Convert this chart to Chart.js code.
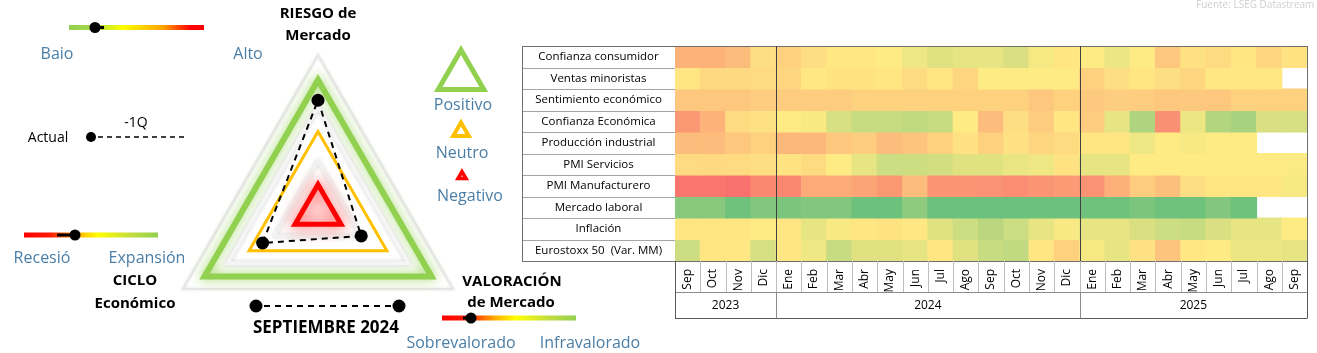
<!DOCTYPE html>
<html><head><meta charset="utf-8">
<script src="https://cdn.jsdelivr.net/npm/chart.js@4.4.1/dist/chart.umd.min.js"></script>
<style>
html,body{margin:0;padding:0;background:#fff;overflow:hidden;width:1317px;height:353px;}
#radarWrap{position:absolute;left:0;top:0;width:660px;height:400px;z-index:2;}
#heatWrap{position:absolute;left:520px;top:0;width:797px;height:353px;z-index:1;}
canvas{display:block;}
</style></head><body>
<div id="heatWrap"><canvas id="heat" width="797" height="353"></canvas></div>
<div id="radarWrap"><canvas id="radar" width="660" height="400"></canvas></div>
<script>
// ---------------- DATA ----------------
const radarAxes = ['Riesgo de Mercado', 'Valoración de Mercado', 'Ciclo Económico'];
const actualValues = [7.1, 3.2, 4.1];
const zoneNames  = ['Marco', 'Positivo', 'Anillo', 'Neutro', 'Interior', 'Negativo'];
const zoneLevels = [10, 8.4, 6.7, 5.1, 3.2, 1.7];
const radarMax = 10;

const months = ['Sep','Oct','Nov','Dic','Ene','Feb','Mar','Abr','May','Jun','Jul','Ago','Sep','Oct','Nov','Dic','Ene','Feb','Mar','Abr','May','Jun','Jul','Ago','Sep'];
const years = ['2023','2024','2025'];
const monthsPerYear = [4, 12, 9];
const indicators = ['Confianza consumidor','Ventas minoristas','Sentimiento económico','Confianza Económica','Producción industrial','PMI Servicios','PMI Manufacturero','Mercado laboral','Inflación','Eurostoxx 50  (Var. MM)'];

// scores 0 (rojo) - 50 (amarillo) - 100 (verde)
const confianzaConsumidor  = [28,28,32,45, 40,45,49,49, 50,55,60,58,58,62,53,48, 50,56,50,36,46,44,48,42,47];
const ventasMinoristas     = [48,43,43,44, 42,49,47,47, 48,44,48,42,50,50,50,50, 40,45,48,45,42,49,49,49,null];
const sentimientoEconomico = [36,36,36,38, 38,38,38,40, 40,40,40,40,40,40,36,40, 37,39,38,36,37,36,40,40,40];
const confianzaEconomica   = [18,28,44,46, 50,52,63,68, 68,70,68,50,32,45,38,48, 38,58,76,15,56,74,78,62,63];
const produccionIndustrial = [32,32,36,40, 30,30,36,38, 32,35,40,46,40,46,42,44, 48,48,55,50,52,50,50,null,null];
const pmiServicios         = [44,43,44,45, 47,44,50,58, 66,66,64,60,60,57,55,47, 58,58,50,50,50,50,50,50,51];
const pmiManufacturero     = [5,5,3,12, 12,25,25,23, 18,32,17,17,16,14,17,19, 16,27,38,33,45,48,48,48,53];
const mercadoLaboral       = [88,88,96,90, 92,90,90,97, 97,86,97,97,97,97,97,97, 96,96,92,96,96,90,96,null,null];
const inflacion            = [48,48,48,50, 48,58,52,48, 47,49,60,66,72,66,58,52, 58,58,62,66,68,62,58,58,50];
const eurostoxx50          = [66,48,49,63, 48,55,68,60, 60,58,48,60,68,70,48,40, 53,58,46,35,49,50,56,56,58];

// ---------------- HELPERS ----------------
const FONT = "'Open Sans', 'Liberation Sans', sans-serif";
const BLUE = '#4A7EA6';
const colorLow = [248,105,107], colorMid = [255,235,132], colorHigh = [99,190,123];
function scaleColor(v){
  const t = Math.max(0, Math.min(1, v/100));
  let a, b, u;
  if (t < 0.5) { a = colorLow; b = colorMid; u = t/0.5; } else { a = colorMid; b = colorHigh; u = (t-0.5)/0.5; }
  return 'rgb(' + a.map((c,i)=>Math.round(c + (b[i]-c)*u)).join(',') + ')';
}

const glowPlugin = {
  id: 'glow',
  beforeDatasetDraw(chart, args) {
    const ds = chart.data.datasets[args.index];
    const ctx = chart.ctx;
    ctx.save();
    if (ds.glowColor) { ctx.shadowColor = ds.glowColor; ctx.shadowBlur = ds.glowBlur || 8; ctx.shadowOffsetX = 0; ctx.shadowOffsetY = 0; }
  },
  afterDatasetDraw(chart) { chart.ctx.restore(); }
};

function gradBar(ctx, x0, x1, y, h, stops){
  const g = ctx.createLinearGradient(x0, 0, x1, 0);
  stops.forEach(s => g.addColorStop(s[0], s[1]));
  ctx.fillStyle = g;
  ctx.fillRect(x0, y - h/2, x1 - x0, h);
}
function dot(ctx, x, y, r){ ctx.beginPath(); ctx.arc(x, y, r, 0, Math.PI*2); ctx.fillStyle = '#000'; ctx.fill(); }
function seg(ctx, x0, x1, y, w, dash){ ctx.beginPath(); ctx.setLineDash(dash || []); ctx.moveTo(x0, y); ctx.lineTo(x1, y); ctx.strokeStyle = '#000'; ctx.lineWidth = w; ctx.stroke(); ctx.setLineDash([]); }
function tri(ctx, cx, top, bottom, color, lw){
  const half = (bottom - top) / Math.sqrt(3);
  ctx.beginPath(); ctx.moveTo(cx, top); ctx.lineTo(cx + half, bottom); ctx.lineTo(cx - half, bottom); ctx.closePath();
  ctx.lineJoin = 'miter'; ctx.strokeStyle = color; ctx.lineWidth = lw; ctx.stroke();
}
function txt(ctx, s, x, y, font, color){ ctx.font = font; ctx.fillStyle = color; ctx.textAlign = 'center'; ctx.textBaseline = 'middle'; ctx.fillText(s, x, y); }

const warmToCool = [[0,'#92D050'],[0.18,'#A6D845'],[0.4,'#FFFF00'],[0.7,'#FFA000'],[0.9,'#FF0000'],[1,'#FF0000']];
const coolToWarm = [[0,'#FF0000'],[0.2,'#FF1a00'],[0.4,'#FFB000'],[0.55,'#FFFF00'],[0.8,'#C2DC40'],[1,'#92D050']];

const decorPlugin = {
  id: 'decor',
  afterDraw(chart) {
    const ctx = chart.ctx;
    ctx.save();
    // Riesgo scale
    gradBar(ctx, 69, 204, 27.5, 5, warmToCool);
    seg(ctx, 95, 104, 27.5, 3);
    dot(ctx, 95, 27.5, 5.5);
    txt(ctx, 'Baio', 57, 54, '16px ' + FONT, BLUE);
    txt(ctx, 'Alto', 248, 54, '16px ' + FONT, BLUE);
    // Actual legend
    txt(ctx, 'Actual', 48, 138, '14px ' + FONT, '#000');
    txt(ctx, '-1Q', 136, 123, '14px ' + FONT, '#000');
    dot(ctx, 91, 137, 5);
    seg(ctx, 98, 187, 137, 1.5, [5,4]);
    // Ciclo scale
    gradBar(ctx, 24, 158, 235, 5, coolToWarm);
    seg(ctx, 57, 75, 235, 3);
    dot(ctx, 75, 235, 5.5);
    txt(ctx, 'Recesió', 42, 258, '16px ' + FONT, BLUE);
    txt(ctx, 'Expansión', 147, 258, '16px ' + FONT, BLUE);
    txt(ctx, 'CICLO', 135, 281, 'bold 15px ' + FONT, '#000');
    txt(ctx, 'Económico', 135, 304, 'bold 15px ' + FONT, '#000');
    // Riesgo title
    txt(ctx, 'RIESGO de', 318, 14, 'bold 15px ' + FONT, '#000');
    txt(ctx, 'Mercado', 318, 36, 'bold 15px ' + FONT, '#000');
    // Legend triangles
    tri(ctx, 461, 50, 89.5, '#92D050', 5);
    txt(ctx, 'Positivo', 463, 105, '16px ' + FONT, BLUE);
    tri(ctx, 461, 122.5, 136, '#FFC000', 4);
    txt(ctx, 'Neutro', 462, 153, '16px ' + FONT, BLUE);
    tri(ctx, 462, 171.5, 178.5, '#FF0000', 3.5);
    txt(ctx, 'Negativo', 470, 196, '16px ' + FONT, BLUE);
    // Valoración
    txt(ctx, 'VALORACIÓN', 512, 282, 'bold 15px ' + FONT, '#000');
    txt(ctx, 'de Mercado', 511, 303, 'bold 15px ' + FONT, '#000');
    gradBar(ctx, 442, 576, 318, 5, coolToWarm);
    seg(ctx, 463, 471, 318, 3);
    dot(ctx, 471, 318, 5.5);
    txt(ctx, 'Sobrevalorado', 461, 343, '16px ' + FONT, BLUE);
    txt(ctx, 'Infravalorado', 590, 343, '16px ' + FONT, BLUE);
    // Fecha
    dot(ctx, 256, 306, 6.5);
    dot(ctx, 399, 306, 6.5);
    seg(ctx, 264, 392, 306, 1.8, [6,5]);
    txt(ctx, 'SEPTIEMBRE 2024', 326, 328, 'bold 17px ' + FONT, '#000');
    ctx.restore();
  }
};

function ring(name, level, color, width, glowColor, glowBlur, fillColor){
  return {
    label: name, data: radarAxes.map(() => level),
    borderColor: color, borderWidth: width, pointRadius: 0, pointHoverRadius: 0,
    fill: !!fillColor, backgroundColor: fillColor || 'rgba(0,0,0,0)',
    glowColor: glowColor, glowBlur: glowBlur, clip: false
  };
}

new Chart(document.getElementById('radar'), {
  type: 'radar',
  data: {
    labels: radarAxes,
    datasets: [
      { label: 'Actual', data: actualValues, borderColor: '#000', borderWidth: 2, borderDash: [6,5],
        pointRadius: 6.5, pointBackgroundColor: '#000', pointBorderWidth: 0, fill: false, clip: false },
      ring(zoneNames[5], zoneLevels[5], '#FF0000', 5, 'rgba(255,0,0,0.85)', 16, 'rgba(255,225,225,0.55)'),
      ring(zoneNames[4], zoneLevels[4], '#f3f3f3', 3, 'rgba(0,0,0,0.18)', 4),
      ring(zoneNames[3], zoneLevels[3], '#FFC000', 3, null, 0),
      ring(zoneNames[2], zoneLevels[2], '#f5f5f5', 4, 'rgba(0,0,0,0.18)', 4),
      ring(zoneNames[1], zoneLevels[1], '#92D050', 6, 'rgba(146,208,80,0.9)', 12),
      ring(zoneNames[0], zoneLevels[0], '#e6e6e6', 2, 'rgba(0,0,0,0.12)', 3)
    ]
  },
  options: {
    responsive: false, animation: false,
    layout: { padding: { left: 162, right: 660 - 474, top: 55, bottom: 33 } },
    plugins: { legend: { display: false }, tooltip: { enabled: false } },
    elements: { line: { tension: 0 } },
    scales: { r: { min: 0, max: radarMax, ticks: { display: false }, grid: { display: false },
      angleLines: { display: false }, pointLabels: { display: false } } }
  },
  plugins: [glowPlugin, decorPlugin]
});

// ---------------- HEATMAP ----------------
const rowValues = [confianzaConsumidor, ventasMinoristas, sentimientoEconomico, confianzaEconomica, produccionIndustrial,
  pmiServicios, pmiManufacturero, mercadoLaboral, inflacion, eurostoxx50];
const TABLE_W = 153, MONTH_H = 31, YEAR_H = 26;

const heatDatasets = rowValues.map((vals, r) => ({
  label: indicators[r],
  data: vals.map(v => v == null ? null : [r, r + 1]),
  backgroundColor: vals.map(v => v == null ? 'rgba(0,0,0,0)' : scaleColor(v)),
  borderWidth: 0, inflateAmount: 0.5, barPercentage: 1, categoryPercentage: 1, grouped: false
}));

const tablePlugin = {
  id: 'table',
  afterDraw(chart) {
    const ctx = chart.ctx, ca = chart.chartArea, xs = chart.scales.x, ys = chart.scales.y;
    const n = months.length;
    const bx = i => xs.getPixelForValue(i - 0.5);
    const x0 = ca.left - TABLE_W;
    ctx.save();
    ctx.lineWidth = 1;
    ctx.strokeStyle = '#a6a6a6';
    for (let r = 1; r < indicators.length; r++) {
      const y = Math.round(ys.getPixelForValue(r)) + 0.5;
      ctx.beginPath(); ctx.moveTo(x0, y); ctx.lineTo(ca.left, y); ctx.stroke();
    }
    ctx.strokeStyle = '#6f6f6f';
    ctx.strokeRect(Math.round(x0) + 0.5, Math.round(ca.top) + 0.5, Math.round(ca.right) - Math.round(x0), Math.round(ca.bottom) - Math.round(ca.top));
    ctx.strokeStyle = '#bdbdbd';
    for (let i = 1; i < n; i++) {
      const x = Math.round(bx(i)) + 0.5;
      ctx.beginPath(); ctx.moveTo(x, ca.bottom); ctx.lineTo(x, ca.bottom + MONTH_H); ctx.stroke();
    }
    const yTop = Math.round(ca.bottom + MONTH_H) + 0.5, yBot = Math.round(ca.bottom + MONTH_H + YEAR_H) + 0.5;
    ctx.strokeStyle = '#8c8c8c';
    ctx.beginPath(); ctx.moveTo(ca.left, yTop); ctx.lineTo(ca.right, yTop); ctx.stroke();
    ctx.strokeStyle = '#595959';
    ctx.beginPath(); ctx.moveTo(ca.left, yBot); ctx.lineTo(ca.right, yBot); ctx.stroke();
    const lx = Math.round(ca.left) + 0.5, rx = Math.round(ca.right) + 0.5;
    ctx.beginPath(); ctx.moveTo(lx, ca.bottom); ctx.lineTo(lx, yBot); ctx.moveTo(rx, ca.bottom); ctx.lineTo(rx, yBot); ctx.stroke();
    let start = 0;
    ctx.font = '12px ' + FONT; ctx.fillStyle = '#000'; ctx.textAlign = 'center'; ctx.textBaseline = 'middle';
    years.forEach((yr, k) => {
      const end = start + monthsPerYear[k];
      const xa = bx(start), xb = bx(end);
      ctx.fillText(yr, (xa + xb) / 2, (yTop + yBot) / 2);
      if (k < years.length - 1) {
        const x = Math.round(xb) + 0.5;
        ctx.strokeStyle = '#404040';
        ctx.beginPath(); ctx.moveTo(x, ca.top); ctx.lineTo(x, ca.bottom); ctx.stroke();
        ctx.strokeStyle = '#8c8c8c';
        ctx.beginPath(); ctx.moveTo(x, yTop); ctx.lineTo(x, yBot); ctx.stroke();
      }
      start = end;
    });
    ctx.font = '10px ' + FONT; ctx.fillStyle = '#cfcfcf'; ctx.textAlign = 'left'; ctx.textBaseline = 'middle';
    ctx.fillText('Fuente: LSEG Datastream', 676, 5);
    ctx.restore();
  }
};

new Chart(document.getElementById('heat'), {
  type: 'bar',
  data: { labels: months, datasets: heatDatasets },
  options: {
    responsive: false, animation: false,
    layout: { padding: { left: 2, right: 4.5, top: 46, bottom: 353 - 261 - MONTH_H } },
    plugins: { legend: { display: false }, tooltip: { enabled: false } },
    scales: {
      x: { type: 'category', offset: true, grid: { display: false, drawTicks: false }, border: { display: false },
        ticks: { autoSkip: false, minRotation: 90, maxRotation: 90, padding: 8, color: '#000', font: { family: FONT, size: 12 } },
        afterFit: s => { s.height = MONTH_H; } },
      y: { type: 'linear', min: 0, max: indicators.length, reverse: true,
        grid: { display: false, drawTicks: false }, border: { display: false },
        afterBuildTicks: s => { s.ticks = indicators.map((_, i) => ({ value: i + 0.5 })); },
        ticks: { autoSkip: false, crossAlign: 'center', padding: 6, color: '#000', font: { family: FONT, size: 11.5 },
          callback: (v, i) => indicators[i] },
        afterFit: s => {
          s.width = TABLE_W;
          try { const w = s._getLabelSizes().widest.width; s.options.ticks.padding = Math.max(0, (TABLE_W - w) / 2); } catch (e) {}
        } }
    }
  },
  plugins: [tablePlugin]
});
</script>
</body></html>
